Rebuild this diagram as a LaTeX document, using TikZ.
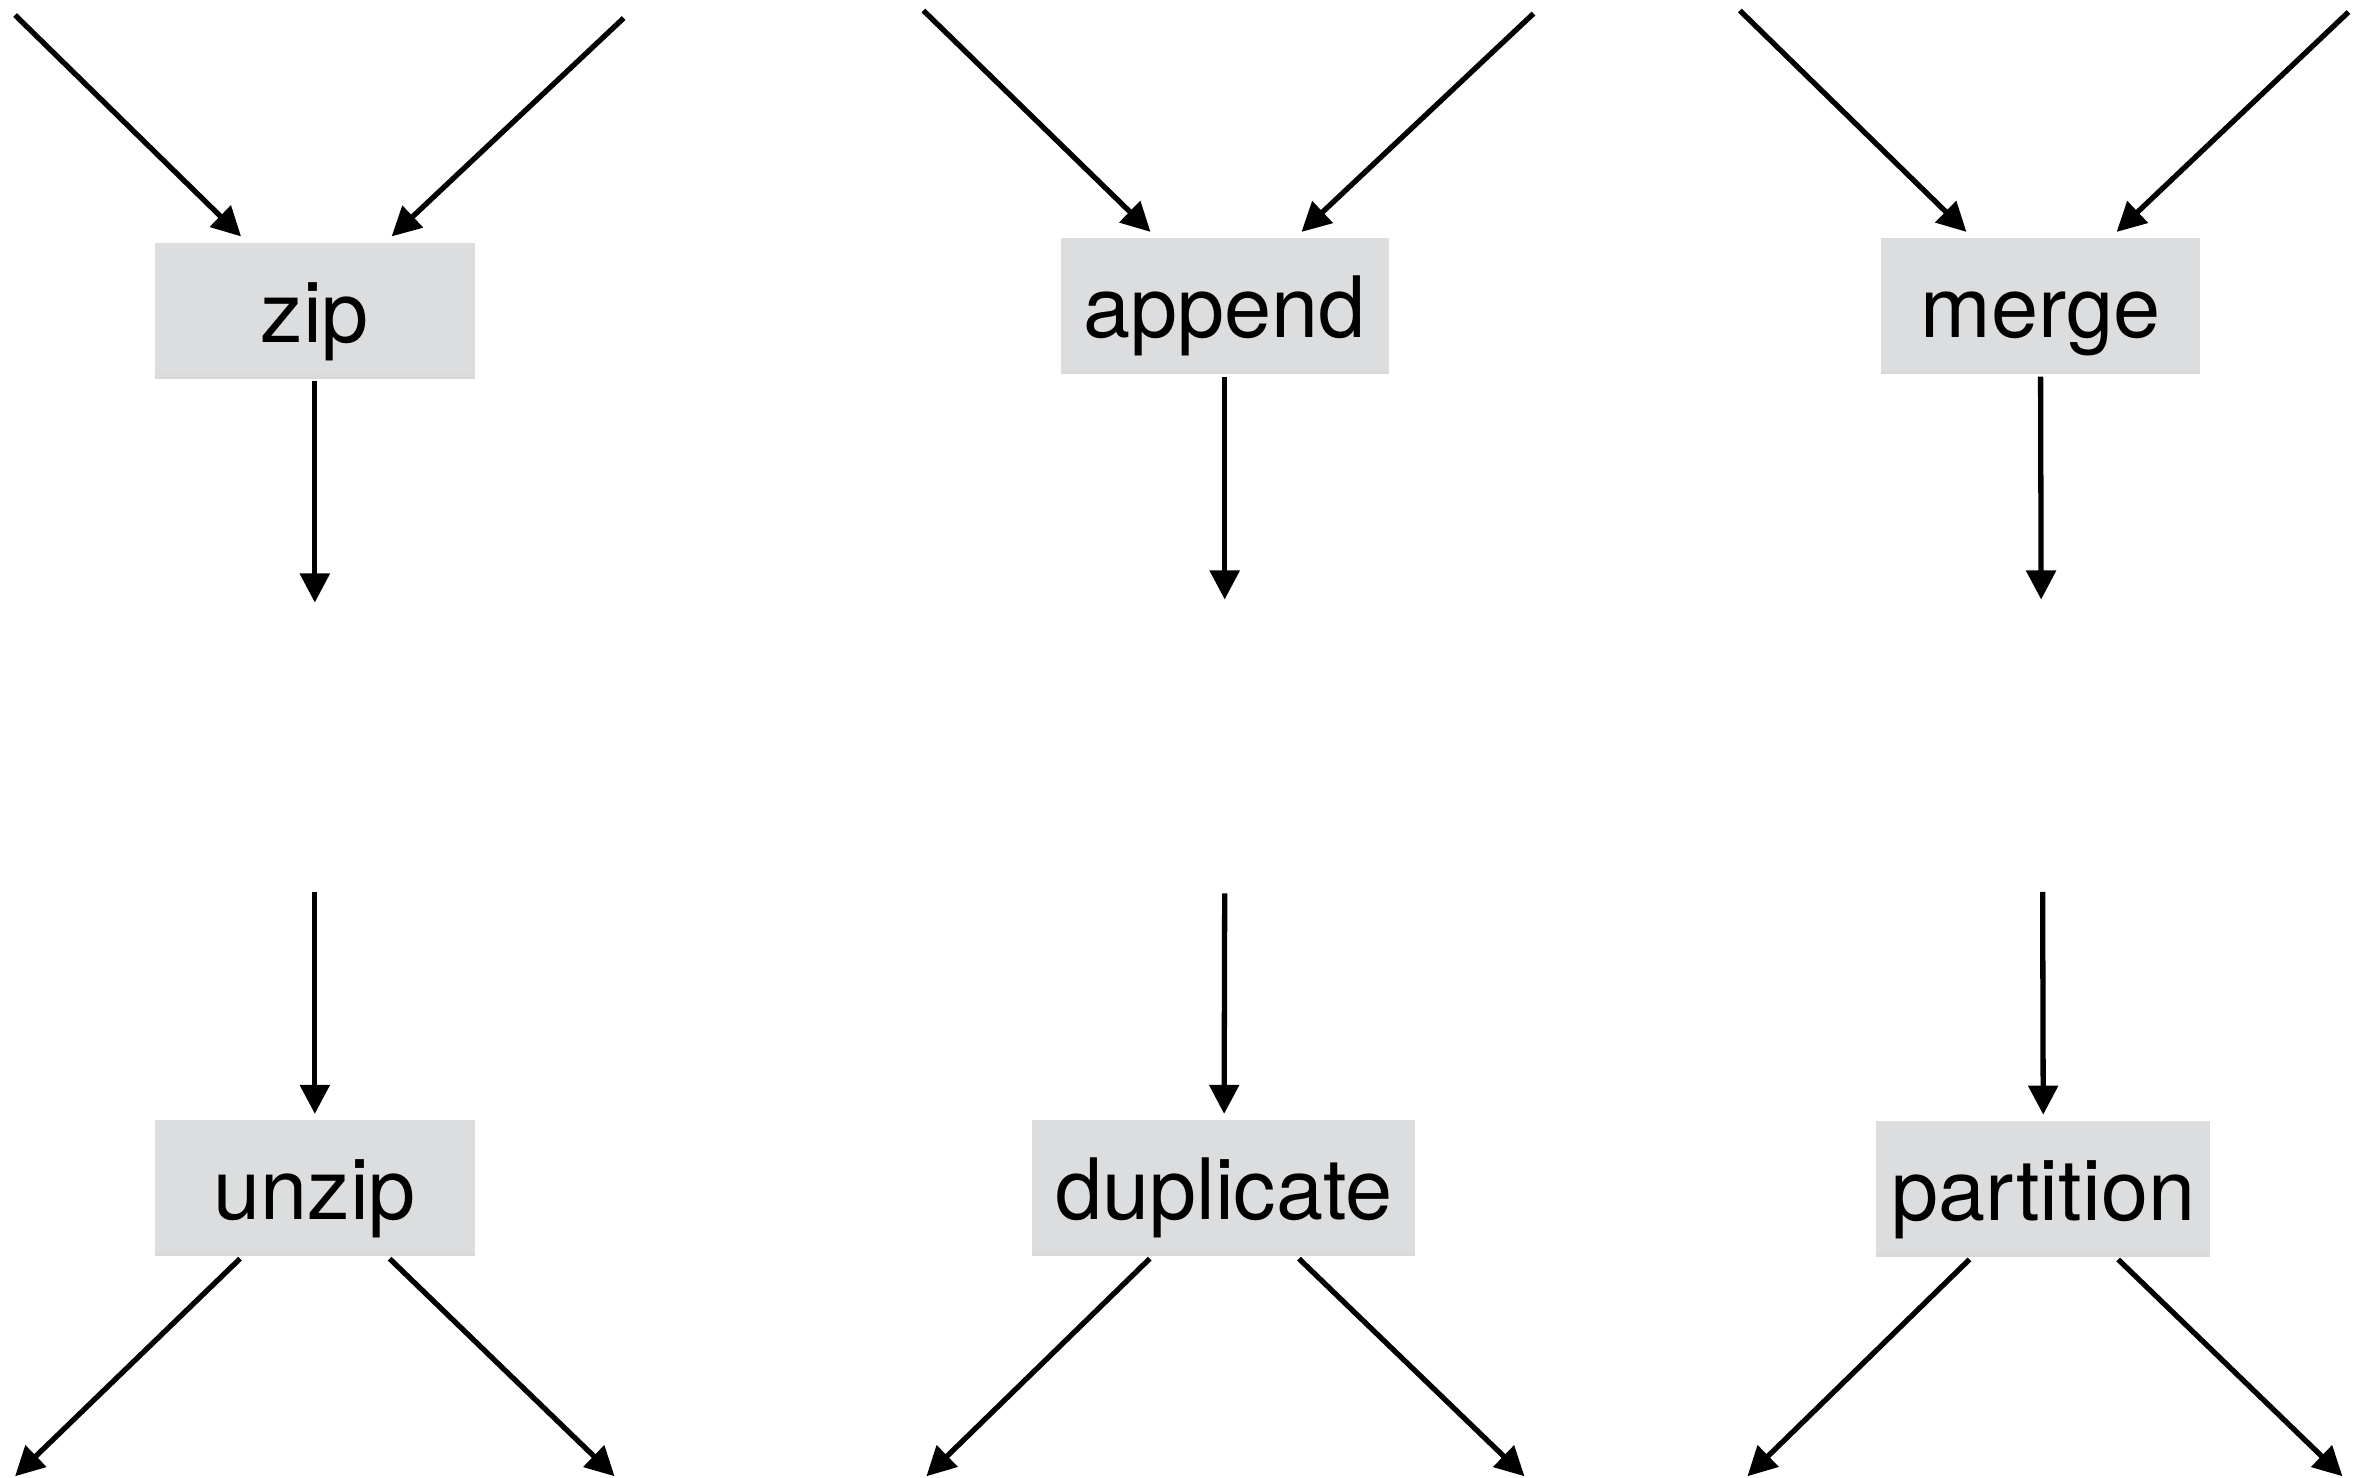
\documentclass[tikz,border=0pt]{standalone}
\usepackage{fontspec}
\setmainfont{TeX Gyre Heros}
\usepackage{xcolor}
\usetikzlibrary{arrows.meta,shadows}
\definecolor{opgrey}{RGB}{220,221,223}

\begin{document}
\begin{tikzpicture}[x=0.2mm, y=-0.2mm,
  font=\fontsize{32}{38}\selectfont,
  op/.style={fill=opgrey, minimum width=42.4mm, minimum height=17.6mm,
             inner xsep=3mm, inner ysep=0pt, text height=1.14cm,
             outer sep=2.3pt,
             drop shadow={shadow xshift=0pt, shadow yshift=-0.5mm,
                          opacity=0.25, fill=black!60}},
  arr/.style={-{Triangle[length=11pt, width=11pt]}, line width=2pt}]
\useasboundingbox (0,0) rectangle (1568,981);

\node[op] (zip)       at (209,205)    {zip};
\node[op] (append)    at (813,202)    {append};
\node[op] (merge)     at (1354.5,202) {merge};
\node[op] (unzip)     at (209,787.5)  {unzip};
\node[op] (duplicate) at (812.5,787.5) {duplicate};
\node[op, inner xsep=2mm] (partition) at (1356.5,788) {partition};

% free ends, top row
\coordinate (zip-a) at (10,10);      \coordinate (zip-b) at (414,12);
\coordinate (zip-out) at (209,400);
\coordinate (append-a) at (613,7);   \coordinate (append-b) at (1018,9);
\coordinate (append-out) at (813,398);
\coordinate (merge-a) at (1155,7);   \coordinate (merge-b) at (1559,8);
\coordinate (merge-out) at (1355,398);

% free ends, bottom row
\coordinate (unzip-in) at (209,592);
\coordinate (unzip-a) at (10,980);   \coordinate (unzip-b) at (408,980);
\coordinate (duplicate-in) at (813,593);
\coordinate (duplicate-a) at (615,980); \coordinate (duplicate-b) at (1012,980);
\coordinate (partition-in) at (1356,592);
\coordinate (partition-a) at (1160,980); \coordinate (partition-b) at (1555,980);

\foreach \n in {zip,append,merge} {
  \draw[arr] (\n-a) -- (\n);
  \draw[arr] (\n-b) -- (\n);
  \draw[arr] (\n) -- (\n-out);
}
\foreach \n in {unzip,duplicate,partition} {
  \draw[arr] (\n-in) -- (\n);
  \draw[arr] (\n) -- (\n-a);
  \draw[arr] (\n) -- (\n-b);
}
\end{tikzpicture}
\end{document}
